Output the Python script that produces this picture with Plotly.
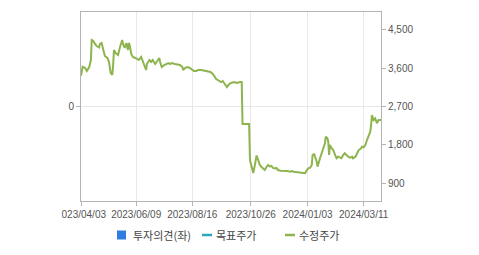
import plotly.graph_objects as go

# 수정주가 (adjusted price) series
dates = [
    "2023-04-03","2023-04-05","2023-04-08","2023-04-10","2023-04-13","2023-04-15","2023-04-16","2023-04-18",
    "2023-04-20","2023-04-22","2023-04-25","2023-04-26","2023-04-28","2023-04-30","2023-05-02","2023-05-05",
    "2023-05-07","2023-05-09","2023-05-11","2023-05-12","2023-05-13","2023-05-15","2023-05-18","2023-05-20",
    "2023-05-23","2023-05-24","2023-05-26","2023-05-28","2023-05-30","2023-05-31","2023-06-01","2023-06-03",
    "2023-06-05","2023-06-08","2023-06-10","2023-06-12","2023-06-15","2023-06-16","2023-06-18","2023-06-21",
    "2023-06-22","2023-06-25","2023-06-27","2023-06-29","2023-07-02","2023-07-04","2023-07-07","2023-07-08",
    "2023-07-10","2023-07-13","2023-07-15","2023-07-18","2023-07-20","2023-07-22","2023-07-26","2023-07-30",
    "2023-08-01","2023-08-04","2023-08-05","2023-08-07","2023-08-10","2023-08-13","2023-08-16","2023-08-18",
    "2023-08-21","2023-08-23","2023-08-27","2023-08-30","2023-09-03","2023-09-07","2023-09-10","2023-09-14",
    "2023-09-16","2023-09-20","2023-09-22","2023-09-25","2023-09-27","2023-09-30","2023-10-02","2023-10-06",
    "2023-10-09","2023-10-13","2023-10-15","2023-10-16","2023-10-24","2023-10-25","2023-10-27","2023-10-29",
    "2023-10-31","2023-11-02","2023-11-04","2023-11-06","2023-11-08","2023-11-10","2023-11-12","2023-11-14",
    "2023-11-16","2023-11-18","2023-11-20","2023-11-22","2023-11-24","2023-11-26","2023-11-28","2023-12-01",
    "2023-12-05","2023-12-09","2023-12-13","2023-12-15","2023-12-17","2023-12-21","2023-12-25","2023-12-29",
    "2023-12-31","2024-01-02","2024-01-04","2024-01-06","2024-01-08","2024-01-09","2024-01-11","2024-01-12",
    "2024-01-14","2024-01-15","2024-01-17","2024-01-18","2024-01-20","2024-01-22","2024-01-24","2024-01-25",
    "2024-01-27","2024-01-28","2024-01-29","2024-01-30","2024-01-31","2024-02-01","2024-02-03","2024-02-05",
    "2024-02-07","2024-02-09","2024-02-11","2024-02-13","2024-02-15","2024-02-17","2024-02-19","2024-02-21",
    "2024-02-23","2024-02-26","2024-02-27","2024-03-01","2024-03-03","2024-03-05","2024-03-07","2024-03-09",
    "2024-03-11","2024-03-13","2024-03-15","2024-03-17","2024-03-19","2024-03-20","2024-03-21","2024-03-23",
    "2024-03-25","2024-03-27","2024-03-29","2024-04-01",
]
prices = [
    3420,3635,3604,3534,3627,3792,4261,4238,
    4168,4121,4085,4168,4191,4027,3886,3839,
    3745,3487,3440,3675,4027,3956,3909,4074,
    4261,4168,4074,4191,4027,4191,4144,3933,
    3862,3839,3815,3792,3862,3815,3721,3557,
    3698,3792,3745,3792,3698,3745,3839,3745,
    3627,3674,3698,3721,3698,3721,3698,3674,
    3674,3627,3557,3604,3627,3604,3557,3534,
    3534,3557,3557,3545,3534,3510,3463,3346,
    3322,3275,3299,3228,3158,3228,3252,3275,
    3252,3275,3275,2289,2289,1444,1256,1139,
    1326,1549,1444,1326,1280,1244,1209,1280,
    1326,1291,1303,1256,1244,1256,1209,1193,
    1193,1186,1169,1186,1169,1155,1139,1132,
    1132,1209,1249,1263,1326,1561,1578,1521,
    1404,1287,1390,1484,1601,1719,1836,1991,
    1953,1873,1561,1796,1756,1719,1679,1561,
    1484,1521,1498,1484,1561,1601,1561,1521,
    1498,1521,1484,1521,1601,1679,1702,1756,
    1742,1796,1913,2031,2108,2266,2500,2383,
    2423,2306,2383,2383,
]

x_tick_dates = ["2023-04-03","2023-06-09","2023-08-16","2023-10-26","2024-01-03","2024-03-11"]
x_tick_labels = ["2023/04/03","2023/06/09","2023/08/16","2023/10/26","2024/01/03","2024/03/11"]
right_ticks = [900, 1800, 2700, 3600, 4500]
left_ticks = [0]
legend_labels = ["투자의견(좌)", "목표주가", "수정주가"]
colors = {"opinion": "#2F7DE1", "target": "#2BA9BA", "price": "#8DB44F"}

AXIS = "#b4b4b4"
GRID = "#e8e8e8"
TICKFONT = dict(family="Liberation Sans, Arial, sans-serif", size=10, color="#555555")

fig = go.Figure()
# 투자의견 (opinion) bars on the left axis: no values in this period
fig.add_trace(go.Bar(x=[dates[0]], y=[None], yaxis="y", marker_color=colors["opinion"],
                     name=legend_labels[0], showlegend=False, hoverinfo="skip"))
fig.add_trace(go.Scatter(x=dates, y=prices, mode="lines", yaxis="y2",
                         line=dict(color=colors["price"], width=2),
                         name=legend_labels[2], showlegend=False, hoverinfo="skip"))

W, H = 479, 255
L, R, T, B = 81, 98, 12, 54
pw, ph = W - L - R, H - T - B

def px_x(p):
    return (p - L) / pw

def px_y(p):
    return (H - B - p) / ph

fig.update_layout(
    width=W, height=H, margin=dict(l=L, r=R, t=T, b=B),
    paper_bgcolor="white", plot_bgcolor="white", showlegend=False,
    xaxis=dict(type="date", range=["2023-04-03", "2024-04-01"],
               tickvals=x_tick_dates, ticktext=x_tick_labels,
               showgrid=True, gridcolor=GRID, gridwidth=1,
               showline=True, linecolor=AXIS, linewidth=1, mirror=True,
               ticks="outside", ticklen=4, tickcolor=AXIS, tickfont=TICKFONT,
               zeroline=False),
    yaxis=dict(range=[-1, 1], tickvals=left_ticks, ticktext=["0"],
               showgrid=True, gridcolor=GRID, zeroline=False,
               showline=True, linecolor=AXIS, linewidth=1,
               ticks="outside", ticklen=4, tickcolor=AXIS, tickfont=TICKFONT),
    yaxis2=dict(range=[481, 4919], overlaying="y", side="right",
                tickvals=right_ticks, tickformat=",", showgrid=False, zeroline=False,
                showline=True, linecolor=AXIS, linewidth=1,
                ticks="outside", ticklen=4, tickcolor=AXIS, tickfont=TICKFONT),
)

# clip of the first date label at the left (as in the reference)
fig.add_shape(type="rect", xref="paper", yref="paper", layer="above",
              x0=px_x(0), x1=px_x(61.5), y0=px_y(222), y1=px_y(206),
              fillcolor="white", line=dict(width=0))

# custom legend
LEGFONT = dict(family="Noto Sans CJK KR", size=11, color="#444444")
ly = px_y(235)
fig.add_shape(type="rect", xref="paper", yref="paper",
              x0=px_x(117), x1=px_x(126), y0=px_y(239.5), y1=px_y(230.5),
              fillcolor=colors["opinion"], line=dict(width=0))
fig.add_annotation(xref="paper", yref="paper", x=px_x(131), y=ly, text=legend_labels[0],
                   showarrow=False, xanchor="left", yanchor="middle", font=LEGFONT)
fig.add_shape(type="line", xref="paper", yref="paper",
              x0=px_x(202), x1=px_x(212), y0=ly, y1=ly,
              line=dict(color=colors["target"], width=2.5))
fig.add_annotation(xref="paper", yref="paper", x=px_x(214), y=ly, text=legend_labels[1],
                   showarrow=False, xanchor="left", yanchor="middle", font=LEGFONT)
fig.add_shape(type="line", xref="paper", yref="paper",
              x0=px_x(285), x1=px_x(295), y0=ly, y1=ly,
              line=dict(color=colors["price"], width=2.5))
fig.add_annotation(xref="paper", yref="paper", x=px_x(297), y=ly, text=legend_labels[2],
                   showarrow=False, xanchor="left", yanchor="middle", font=LEGFONT)

fig.write_html("out.html")
